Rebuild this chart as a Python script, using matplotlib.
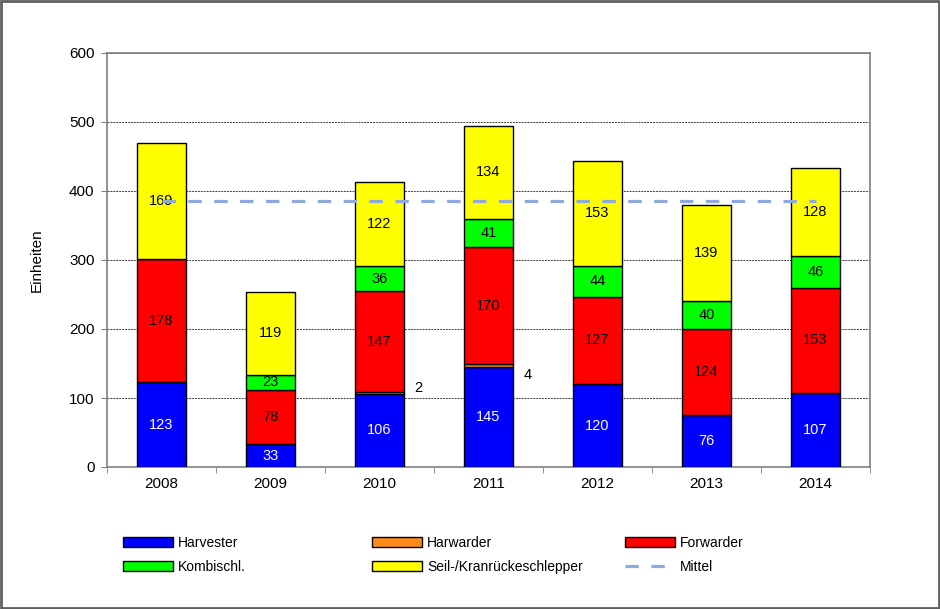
import numpy as np
import matplotlib.pyplot as plt
from matplotlib.lines import Line2D
from matplotlib.patches import Patch

plt.rcParams['font.family'] = ['Liberation Sans', 'DejaVu Sans']

years = ["2008", "2009", "2010", "2011", "2012", "2013", "2014"]
harvester = [123, 33, 106, 145, 120, 76, 107]
harwarder = [0, 0, 2, 4, 0, 0, 0]
forwarder = [178, 78, 147, 170, 127, 124, 153]
kombi = [0, 23, 36, 41, 44, 40, 46]
seil = [169, 119, 122, 134, 153, 139, 128]
mittel = 385

series = [
    ("Harvester", harvester, "#0000FF", "white"),
    ("Harwarder", harwarder, "#FF8C1A", "black"),
    ("Forwarder", forwarder, "#FF0000", "black"),
    ("Kombischl.", kombi, "#00FF00", "black"),
    ("Seil-/Kranrückeschlepper", seil, "#FFFF00", "black"),
]
# vertical offset of the small Harwarder labels beside the bars
harw_offset = {2: 6, 3: -16}

fig = plt.figure(figsize=(9.4, 6.09), dpi=100)
ax = fig.add_axes([107 / 940, 1 - 467 / 609, 763 / 940, 414 / 609])

x = np.arange(len(years))
bottom = np.zeros(len(years))
for name, vals, color, tcol in series:
    vals = np.array(vals, dtype=float)
    ax.bar(x, vals, 0.45, bottom=bottom, color=color, edgecolor="black",
           linewidth=1, zorder=3)
    for i, v in enumerate(vals):
        if v == 0:
            continue
        if name == "Harwarder":
            ax.text(x[i] + 0.36, bottom[i] + v + harw_offset.get(i, 0), f"{int(v)}",
                    ha="center", va="center", fontsize=10.5, color="black", zorder=4)
        else:
            ax.text(x[i], bottom[i] + v / 2, f"{int(v)}", ha="center",
                    va="center", fontsize=10.5, color=tcol, zorder=4)
    bottom += vals

dash = (0, (4.2, 3.9))
ax.plot([x[0], x[-1]], [mittel, mittel], color="#8EA9DB", linewidth=2.3,
        linestyle=dash, zorder=5)

ax.set_xlim(-0.5, len(years) - 0.5)
ax.set_ylim(0, 600)
ax.set_yticks(range(0, 601, 100))
ax.set_xticks(x)
ax.set_xticklabels(years, fontsize=11)
ax.tick_params(axis="x", length=0, pad=7)
ax.set_xticks(np.arange(-0.5, len(years)), minor=True)
ax.tick_params(axis="x", which="minor", length=4, color="#808080")
ax.tick_params(axis="y", labelsize=11, length=4, color="#808080", pad=5)
ax.yaxis.grid(True, linestyle=(0, (2, 1)), color="#404040", linewidth=0.7, zorder=0)
for s in ax.spines.values():
    s.set_color("#808080")
    s.set_linewidth(1.2)
ax.set_ylabel("Einheiten", fontsize=11, labelpad=18)

handles = [Patch(facecolor=c, edgecolor="black", label=n) for n, _, c, _ in series]
handles.append(Line2D([], [], color="#8EA9DB", linewidth=2.3, linestyle=dash,
                      label="Mittel"))
columns = [(123, [0, 3]), (372, [1, 4]), (625, [2, 5])]
for left, idx in columns:
    leg = fig.legend(handles=[handles[i] for i in idx], loc="upper left",
                     bbox_to_anchor=(left / 940, 1 - 536 / 609),
                     frameon=False, fontsize=10, handlelength=3.6,
                     handleheight=0.7, labelspacing=0.72, handletextpad=0.36,
                     borderpad=0, borderaxespad=0)

fig.patches.append(plt.Rectangle((0.001, 0.001), 0.998, 0.997,
                                 transform=fig.transFigure, fill=False,
                                 edgecolor="#606060", linewidth=2))
fig.savefig("out.png", dpi=100)
